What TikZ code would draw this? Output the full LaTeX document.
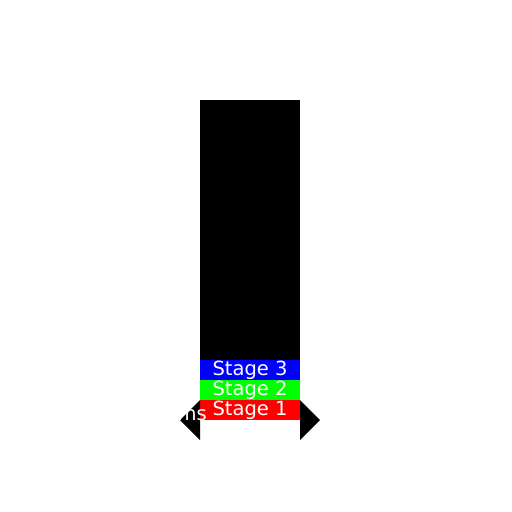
\documentclass[tikz,border=0pt]{standalone}
\usepackage{fontspec}
\setmainfont{DejaVu Sans}
\begin{document}
\begin{tikzpicture}[x=1pt,y=-1pt,
  stage/.style={minimum width=100pt,minimum height=20pt,inner sep=0pt,text=white,font=\fontsize{19.5}{20}\selectfont}]
\useasboundingbox (0,0) rectangle (512,512);

\fill[black] (200,100) rectangle (300,360);

\node[stage,fill=blue] (s3) at (250,370) {Stage 3};
\node[stage,fill=green] (s2) at (250,390) {Stage 2};
\node[stage,fill=red] (s1) at (250,410) {Stage 1};

\fill[black] (200,400) -- (180,420) -- (200,440) -- cycle;
\fill[black] (300,400) -- (320,420) -- (300,440) -- cycle;

\node[anchor=base east,inner sep=0pt,text=white,font=\fontsize{19.5}{20}\selectfont] (ms) at (207,420) {ms};
\end{tikzpicture}
\end{document}
